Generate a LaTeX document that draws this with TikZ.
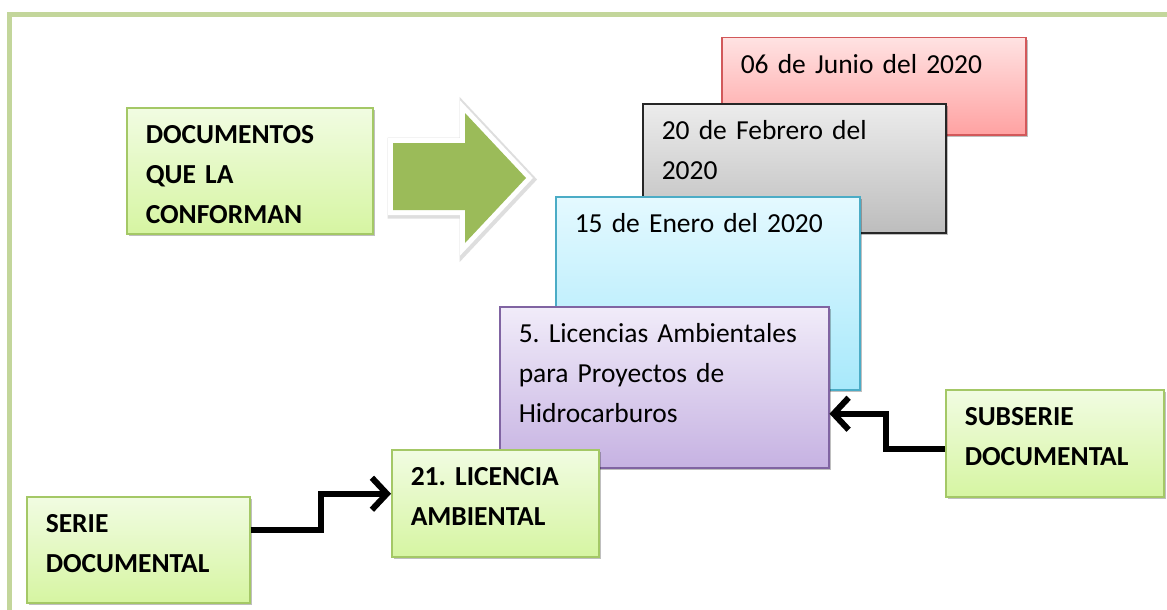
\documentclass[tikz,border=0pt]{standalone}
\usepackage{fontspec}
\setmainfont{Carlito}
\usepackage{tikz}
\usetikzlibrary{arrows.meta,shadows}
\definecolor{marcoVerde}{HTML}{C3D69B}
\definecolor{flechaVerde}{HTML}{9BBB59}
\definecolor{verdeArriba}{HTML}{F1FCE2}
\definecolor{verdeAbajo}{HTML}{D6F5A2}
\definecolor{verdeBorde}{HTML}{A4C866}
\definecolor{rojoArriba}{HTML}{FFE2E2}
\definecolor{rojoAbajo}{HTML}{FFA2A2}
\definecolor{rojoBorde}{HTML}{D2585A}
\definecolor{grisArriba}{HTML}{ECECEC}
\definecolor{grisAbajo}{HTML}{BDBDBD}
\definecolor{cianArriba}{HTML}{E4F9FF}
\definecolor{cianAbajo}{HTML}{A8E9FB}
\definecolor{cianBorde}{HTML}{4BACC6}
\definecolor{moradoArriba}{HTML}{F1ECF9}
\definecolor{moradoAbajo}{HTML}{C6B2E2}
\definecolor{moradoBorde}{HTML}{8064A2}
\newcommand{\cajaFont}[0]{\frenchspacing\fontsize{27.5}{40}\selectfont}

\begin{document}
\begin{tikzpicture}[x=1pt, y=-1pt]
  \tikzset{
    caja/.style={draw, anchor=north west, align=left, inner xsep=19pt, inner ysep=0pt,
      text height=36pt, line width=1.5pt, font=\cajaFont,
      drop shadow={shadow xshift=2pt, shadow yshift=-2.5pt, fill=black, opacity=0.25}},
    verde/.style={caja, draw=verdeBorde, top color=verdeArriba, bottom color=verdeAbajo, font=\cajaFont\bfseries},
    conector/.style={line width=6pt, -{Straight Barb[length=15pt, width=32pt]}}
  }
  \useasboundingbox (0,0) rectangle (1167,610);
  \draw[marcoVerde, line width=5pt] (9.5,620) -- (9.5,15) -- (1180,15);
  \node[verde, text width=208pt, text depth=90pt] (DOCS) at (126,107) {DOCUMENTOS\\QUE LA\\CONFORMAN};
  \fill[flechaVerde, line join=miter,
    preaction={draw=black!13, line width=14pt, transform canvas={xshift=1.5pt, yshift=-1.5pt}},
    preaction={draw=white, line width=10pt}]
    (393,143) -- (465,143) -- (465,113) -- (526,178) -- (465,243) -- (465,210) -- (393,210) -- cycle;
  \node[caja, draw=rojoBorde, top color=rojoArriba, bottom color=rojoAbajo, text width=266pt, text depth=61pt] (FECHA-3) at (721,37) {06 de Junio del 2020};
  \node[caja, draw=black!85, top color=grisArriba, bottom color=grisAbajo, text width=265pt, text depth=93pt] (FECHA-2) at (642,103) {20 de Febrero del\\2020};
  \node[caja, draw=cianBorde, top color=cianArriba, bottom color=cianAbajo, text width=266pt, text depth=157pt] (FECHA-1) at (555,196) {15 de Enero del 2020};
  \node[caja, draw=moradoBorde, top color=moradoArriba, bottom color=moradoAbajo, text width=291pt, text depth=125pt] (SUB-1) at (499,306) {5. Licencias Ambientales\\para Proyectos de\\Hidrocarburos};
  \node[verde, text width=169pt, text depth=71pt] (SER-1) at (391,449) {21. LICENCIA\\AMBIENTAL};
  \node[verde, text width=185pt, text depth=70pt] (SERIE) at (26,496) {SERIE\\DOCUMENTAL};
  \node[verde, text width=180pt, text depth=71pt] (SUBSERIE) at (945,389) {SUBSERIE\\DOCUMENTAL};
  \draw[conector] ([yshift=20pt]SERIE.east) -- ++(70,0) |- ([yshift=9.5pt]SER-1.west);
  \draw[conector] ([yshift=-5.5pt]SUBSERIE.west) -- ++(-59,0) |- ([yshift=-26.5pt]SUB-1.east);
\end{tikzpicture}
\end{document}
